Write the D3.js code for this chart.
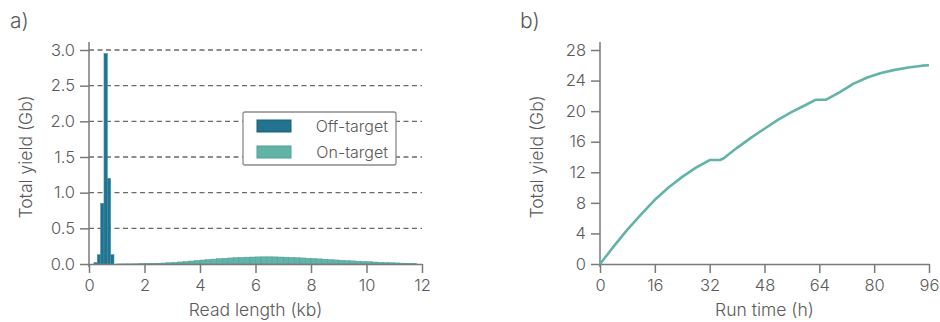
<!DOCTYPE html>
<html>
<head>
<meta charset="utf-8">
<script src="https://cdn.jsdelivr.net/npm/d3@7"></script>
<style>
  body { margin: 0; background: #fff; }
  svg text { font-family: Inter, "Liberation Sans", sans-serif; font-weight: 300; fill: #5a5a5a; }
</style>
</head>
<body>
<svg width="940" height="322"></svg>
<script>
// panel a: off-target bins (kb start) and yields (Gb)
const offBins = [0.18, 0.30, 0.42, 0.54, 0.66, 0.78];
const offYield = [0.02, 0.13, 0.85, 2.95, 1.2, 0.13];
const offWidth = 0.12;

// on-target bins, 0.2 kb wide
const onBins = [1.0, 1.2, 1.4, 1.6, 1.8, 2.0, 2.2, 2.4, 2.6, 2.8, 3.0, 3.2, 3.4, 3.6, 3.8,
  4.0, 4.2, 4.4, 4.6, 4.8, 5.0, 5.2, 5.4, 5.6, 5.8, 6.0, 6.2, 6.4, 6.6, 6.8, 7.0, 7.2, 7.4,
  7.6, 7.8, 8.0, 8.2, 8.4, 8.6, 8.8, 9.0, 9.2, 9.4, 9.6, 9.8, 10.0, 10.2, 10.4, 10.6, 10.8,
  11.0, 11.2, 11.4, 11.6];
const onYield = [0.001, 0.002, 0.002, 0.003, 0.004, 0.006, 0.008, 0.011, 0.014, 0.018, 0.023,
  0.029, 0.035, 0.042, 0.049, 0.056, 0.063, 0.069, 0.075, 0.080, 0.085, 0.089, 0.093, 0.096,
  0.098, 0.100, 0.101, 0.101, 0.100, 0.098, 0.096, 0.093, 0.089, 0.085, 0.081, 0.077, 0.072,
  0.067, 0.062, 0.057, 0.053, 0.048, 0.044, 0.040, 0.036, 0.032, 0.028, 0.024, 0.021, 0.018,
  0.015, 0.012, 0.010, 0.008];
const onWidth = 0.2;

const lenTicks = [0, 2, 4, 6, 8, 10, 12];
const gbTicks = [0, 0.5, 1.0, 1.5, 2.0, 2.5, 3.0];
const legendLabels = ["Off-target", "On-target"];

// panel b: cumulative yield over run time
const runHours = [0, 2, 4, 8, 12, 16, 20, 24, 28, 32, 35, 36, 40, 44, 48, 52, 56, 60, 63, 66,
  70, 74, 78, 82, 86, 90, 94, 96];
const runYield = [0, 1.15, 2.3, 4.5, 6.5, 8.4, 10.0, 11.4, 12.6, 13.6, 13.6, 13.8, 15.2, 16.5,
  17.7, 18.9, 19.9, 20.8, 21.5, 21.5, 22.5, 23.6, 24.4, 25.0, 25.4, 25.7, 25.95, 26.0];
const hourTicks = [0, 16, 32, 48, 64, 80, 96];
const yieldTicks = [0, 4, 8, 12, 16, 20, 24, 28];

const offColor = "#22738f";
const onColor = "#62b3a8";
const axisColor = "#7a7a7a";

const svg = d3.select("svg");

function styleAxis(g) {
  g.select(".domain").attr("stroke", axisColor).attr("stroke-width", 1.5);
  g.selectAll(".tick line").attr("stroke", axisColor).attr("stroke-width", 1.5);
  g.selectAll(".tick text").attr("font-size", 16.5).attr("fill", "#5a5a5a");
}

// ---------- panel a ----------
const xa = d3.scaleLinear().domain([0, 12]).range([89, 422]);
const ya = d3.scaleLinear().domain([0, 3]).range([264, 50]);

const ga = svg.append("g");

ga.append("g")
  .selectAll("line")
  .data(gbTicks.filter(d => d > 0))
  .join("line")
  .attr("x1", xa(0)).attr("x2", xa(12))
  .attr("y1", d => ya(d)).attr("y2", d => ya(d))
  .attr("stroke", "#6a6a6a")
  .attr("stroke-width", 1.3)
  .attr("stroke-dasharray", "5,3.5");

ga.append("g")
  .selectAll("rect")
  .data(onBins.map((b, i) => ({ x: b, v: onYield[i] })))
  .join("rect")
  .attr("x", d => xa(d.x))
  .attr("width", xa(onWidth) - xa(0))
  .attr("y", d => ya(d.v))
  .attr("height", d => ya(0) - ya(d.v))
  .attr("fill", onColor)
  .attr("stroke", "#4f9f94")
  .attr("stroke-width", 0.5);

ga.append("g")
  .selectAll("rect")
  .data(offBins.map((b, i) => ({ x: b, v: offYield[i] })))
  .join("rect")
  .attr("x", d => xa(d.x))
  .attr("width", xa(offWidth) - xa(0))
  .attr("y", d => ya(d.v))
  .attr("height", d => ya(0) - ya(d.v))
  .attr("fill", offColor)
  .attr("stroke", "#3d8fa8")
  .attr("stroke-width", 0.6);

ga.append("g")
  .attr("transform", `translate(0,${ya(0)})`)
  .call(d3.axisBottom(xa).tickValues(lenTicks).tickSize(9).tickPadding(6).tickSizeOuter(0))
  .call(styleAxis);

ga.append("g")
  .attr("transform", `translate(${xa(0)},0)`)
  .call(d3.axisLeft(ya).tickValues(gbTicks).tickFormat(d3.format(".1f")).tickSize(9).tickPadding(5).tickSizeOuter(0))
  .call(styleAxis)
  .call(g => g.select(".domain").attr("d", "M0,42V267"));

ga.append("text").attr("x", 10).attr("y", 28).attr("font-size", 21).text("a)");

ga.append("text")
  .attr("x", (xa(0) + xa(12)) / 2).attr("y", 316)
  .attr("text-anchor", "middle").attr("font-size", 17.5)
  .text("Read length (kb)");

ga.append("text")
  .attr("transform", `translate(32,${(ya(0) + ya(3)) / 2}) rotate(-90)`)
  .attr("text-anchor", "middle").attr("font-size", 17.5)
  .text("Total yield (Gb)");

// legend
const lg = ga.append("g");
lg.append("rect")
  .attr("x", 243).attr("y", 112).attr("width", 153).attr("height", 53).attr("rx", 2)
  .attr("fill", "#fff").attr("stroke", "#8a8a8a").attr("stroke-width", 1.3);
lg.selectAll(".sw")
  .data(legendLabels)
  .join("rect")
  .attr("x", 257).attr("y", (d, i) => 120 + i * 26)
  .attr("width", 34).attr("height", 12)
  .attr("fill", (d, i) => i === 0 ? offColor : onColor)
  .attr("stroke", (d, i) => i === 0 ? "#1b5f77" : "#4f9f94");
lg.selectAll(".lt")
  .data(legendLabels)
  .join("text")
  .attr("x", 388).attr("y", (d, i) => 132 + i * 26)
  .attr("text-anchor", "end").attr("font-size", 16)
  .text(d => d);

// ---------- panel b ----------
const xb = d3.scaleLinear().domain([0, 96]).range([600, 929]);
const yb = d3.scaleLinear().domain([0, 28]).range([264, 50]);

const gb = svg.append("g");

gb.append("g")
  .attr("transform", `translate(0,${yb(0)})`)
  .call(d3.axisBottom(xb).tickValues(hourTicks).tickSize(9).tickPadding(6).tickSizeOuter(0))
  .call(styleAxis);

gb.append("g")
  .attr("transform", `translate(${xb(0)},0)`)
  .call(d3.axisLeft(yb).tickValues(yieldTicks).tickSize(9).tickPadding(5).tickSizeOuter(0))
  .call(styleAxis)
  .call(g => g.select(".domain").attr("d", "M0,42V267"));

gb.append("path")
  .datum(runHours.map((h, i) => [h, runYield[i]]))
  .attr("fill", "none")
  .attr("stroke", onColor)
  .attr("stroke-width", 2.6)
  .attr("stroke-linejoin", "round")
  .attr("d", d3.line().x(d => xb(d[0])).y(d => yb(d[1])));

gb.append("text").attr("x", 520).attr("y", 28).attr("font-size", 21).text("b)");

gb.append("text")
  .attr("x", (xb(0) + xb(96)) / 2).attr("y", 316)
  .attr("text-anchor", "middle").attr("font-size", 17.5)
  .text("Run time (h)");

gb.append("text")
  .attr("transform", `translate(543,${(yb(0) + yb(28)) / 2}) rotate(-90)`)
  .attr("text-anchor", "middle").attr("font-size", 17.5)
  .text("Total yield (Gb)");
</script>
</body>
</html>
